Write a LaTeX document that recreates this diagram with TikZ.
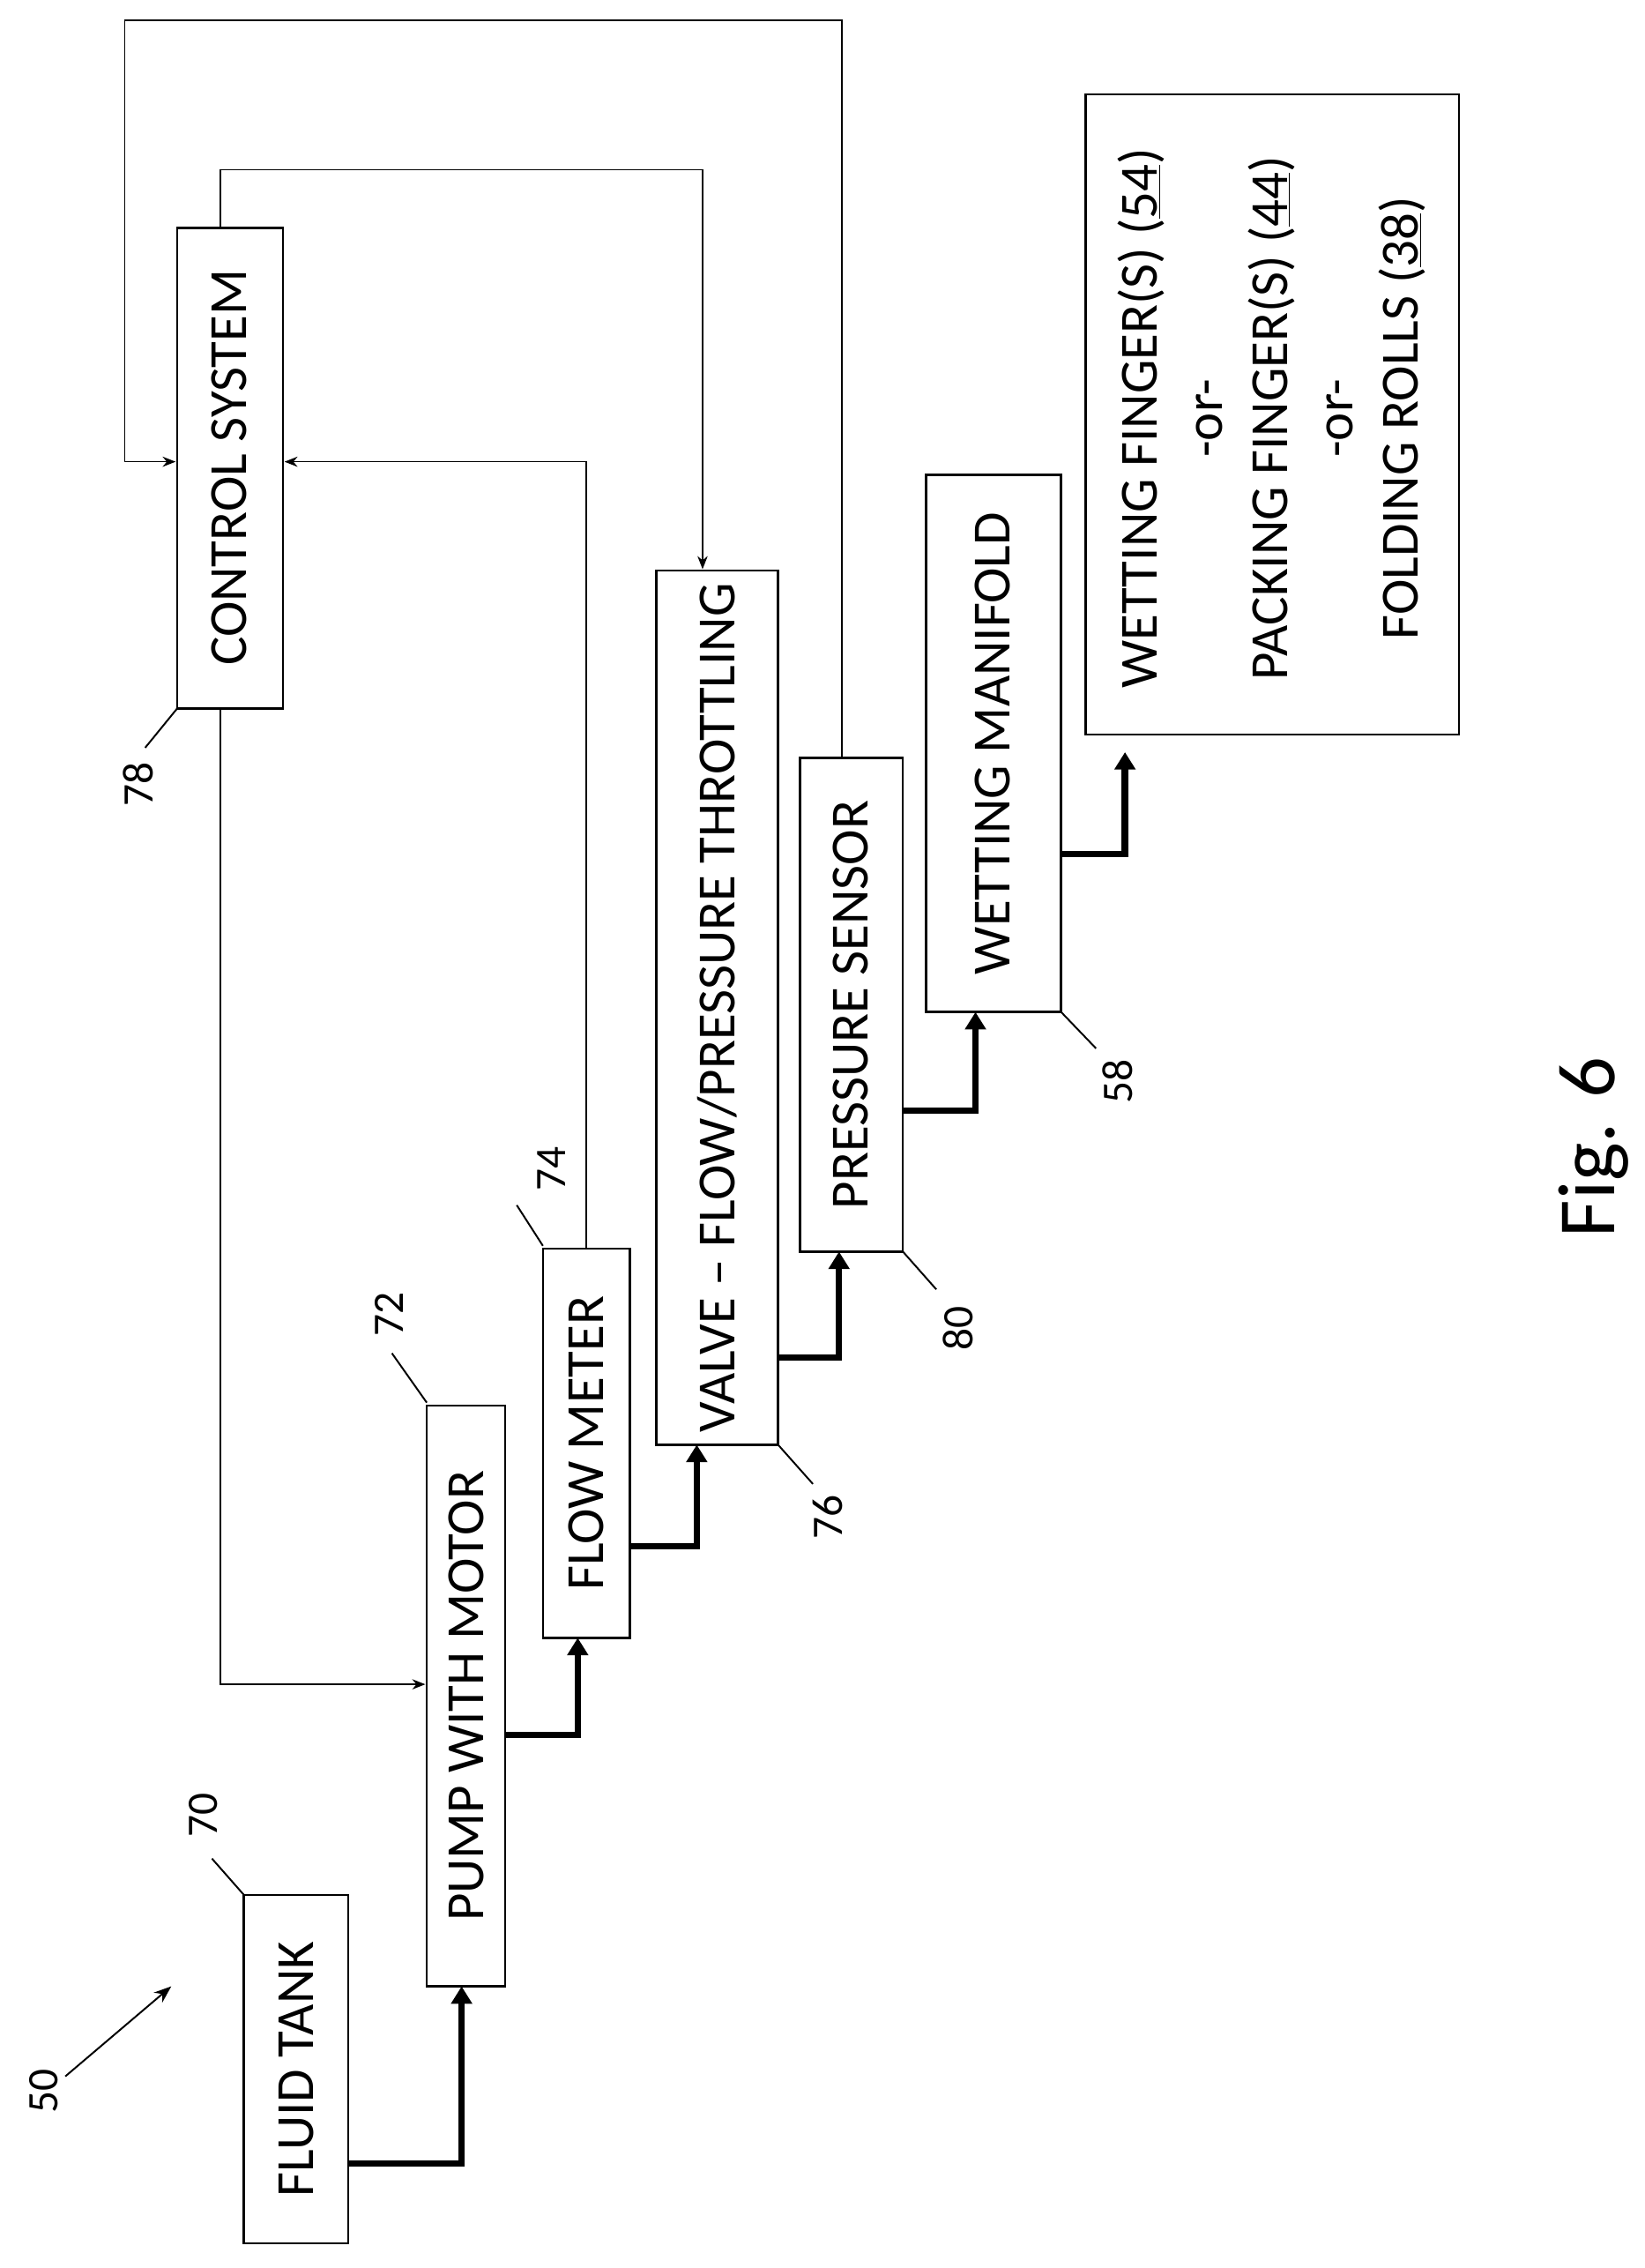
\documentclass[tikz,border=0pt]{standalone}
\usepackage{fontspec}
\setmainfont{Carlito}
\usetikzlibrary{arrows.meta}
\begin{document}
\begin{tikzpicture}[x=1pt,y=-1pt,
  box/.style={draw,line width=1.5pt},
  lbl/.style={rotate=90,font=\fontsize{37}{42}\selectfont},
  num/.style={rotate=90,font=\fontsize{30}{34}\selectfont},
  thick flow/.style={line width=4.5pt,-{Triangle[length=12pt,width=14pt]}},
  sig/.style={line width=1pt,-{Stealth[length=9pt,width=7pt]}},
  lead/.style={line width=1.2pt}]
\useasboundingbox (0,0) rectangle (1133,1562);
\fill[white] (0,0) rectangle (1133,1562);
% boxes
\draw[box] (168,1305) rectangle (240,1545); \node[lbl] (tank) at (204,1425) {FLUID TANK};
\draw[box] (294,968) rectangle (348,1368); \node[lbl] (pump) at (321,1168) {PUMP WITH MOTOR};
\draw[box] (374,860) rectangle (434,1128); \node[lbl] (fm) at (404,994) {FLOW METER};
\draw[box] (452,393) rectangle (536,995); \node[lbl] (valve) at (494,694) {VALVE -- FLOW/PRESSURE THROTTLING};
\draw[box] (551,522) rectangle (622,862); \node[lbl] (ps) at (586,692) {PRESSURE SENSOR};
\draw[box] (638,327) rectangle (731,697); \node[lbl] (wm) at (684,512) {WETTING MANIFOLD};
\draw[box] (122,157) rectangle (195,488); \node[lbl] (cs) at (158,322) {CONTROL SYSTEM};
\draw[box] (748,65) rectangle (1005,506);
\node[lbl,align=center,font=\fontsize{37}{45}\selectfont] (out) at (876,288)
 {WETTING FINGER(S) (\underline{54})\\-or-\\PACKING FINGER(S) (\underline{44})\\-or-\\FOLDING ROLLS (\underline{38})};
% thick flow arrows
\draw[thick flow] (240,1490) -| (318,1368);
\draw[thick flow] (348,1195) -| (398,1128);
\draw[thick flow] (434,1065) -| (480,995);
\draw[thick flow] (536,935) -| (578,862);
\draw[thick flow] (622,765) -| (672,697);
\draw[thick flow] (731,588) -| (775,518);
% signal lines
\draw[sig] (152,488) |- (293,1160);
\draw[sig] (152,157) |- (484,117) -- (484,392);
\draw[sig] (404,860) |- (196,318);
\draw[sig] (580,522) |- (86,14) |- (121,318);
% reference numerals
\draw[lead] (122,488) -- (100,515); \node[num] at (95,540) {78};
\draw[lead] (374,858) -- (356,830); \node[num] at (380,805) {74};
\draw[lead] (294,966) -- (270,932); \node[num] at (268,905) {72};
\draw[lead] (168,1305) -- (146,1280); \node[num] at (140,1250) {70};
\draw[lead] (536,995) -- (560,1022); \node[num] at (570,1045) {76};
\draw[lead] (622,862) -- (645,888); \node[num] at (660,915) {80};
\draw[lead] (731,697) -- (755,722); \node[num] at (770,745) {58};
\node[num] at (30,1440) {50};
\draw[line width=1.2pt,-{Stealth[length=12pt,width=9pt]}] (45,1430) -- (118,1368);
\node[rotate=90,font=\fontsize{56}{60}\selectfont] at (1098,790) {Fig. 6};
\end{tikzpicture}
\end{document}
